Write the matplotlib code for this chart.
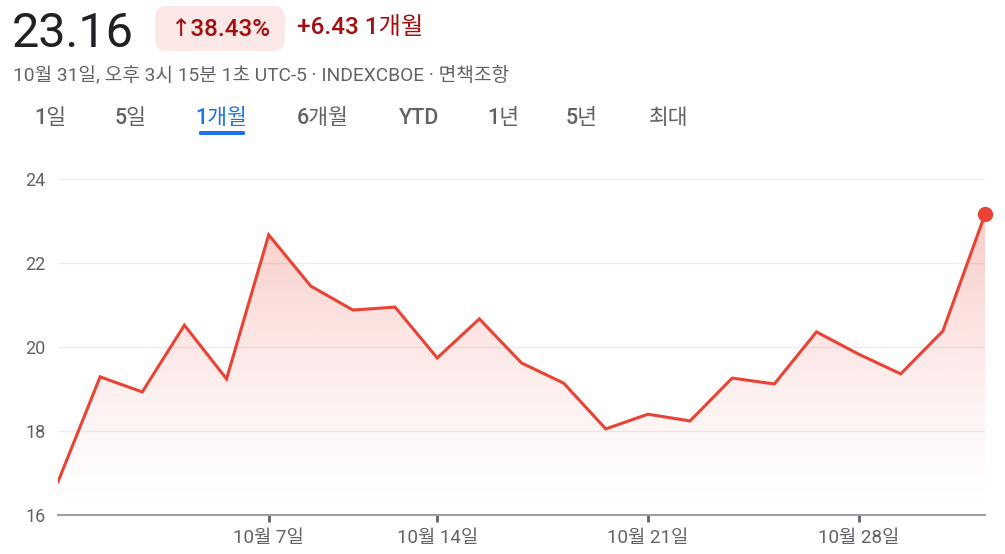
import matplotlib
matplotlib.use("Agg")
import matplotlib.pyplot as plt
import numpy as np
from matplotlib.patches import FancyBboxPatch

plt.rcParams['font.family'] = ['Roboto', 'Noto Sans CJK KR', 'DejaVu Sans']

# ---- data ----
values = [16.79, 19.29, 18.93, 20.52, 19.24, 22.67, 21.45, 20.88, 20.95, 19.74,
          20.67, 19.62, 19.14, 18.05, 18.40, 18.24, 19.26, 19.12, 20.36, 19.83,
          19.36, 20.38, 23.16]
tick_idx = [5, 9, 14, 19]
tick_labels = ["10월 7일", "10월 14일", "10월 21일", "10월 28일"]
y_ticks = [16, 18, 20, 22, 24]
tabs = ["1일", "5일", "1개월", "6개월", "YTD", "1년", "5년", "최대"]
tab_x = [50, 131, 221, 323, 419, 503, 582, 669]
price = "23.16"
pct = "↑38.43%"
change = "+6.43 1개월"
subtitle = "10월 31일, 오후 3시 15분 1초 UTC-5 · INDEXCBOE · 면책조항"

W, H = 1005, 554
fig = plt.figure(figsize=(W / 100, H / 100), dpi=100)

def fx(px):
    return px / W

def fy(py):
    return 1 - py / H

ax = fig.add_axes([fx(58), fy(515), fx(985) - fx(58), fy(179) - fy(515)])
x = np.arange(len(values))
red = "#ea4335"

ax.set_xlim(0, len(values) - 1)
ax.set_ylim(16, 24)

# gradient fill
ymax = max(values)
grad = np.linspace(0, 1, 256).reshape(-1, 1)
rgba = np.zeros((256, 1, 4))
rgba[..., 0] = 234 / 255
rgba[..., 1] = 67 / 255
rgba[..., 2] = 53 / 255
rgba[..., 3] = (grad[:, 0] ** 1.4 * 0.28).reshape(-1, 1)
poly = ax.fill_between(x, values, 16, color="none", lw=0)
img = ax.imshow(rgba, extent=[0, len(values) - 1, 16, ymax], origin="lower",
                aspect="auto", zorder=1)
path = poly.get_paths()[0]
img.set_clip_path(path, transform=ax.transData)

for yt in y_ticks[1:]:
    ax.axhline(yt, color="#ececec", lw=1.0, zorder=0)

ax.plot(x, values, color=red, lw=2.2, zorder=3, solid_joinstyle="miter")
ax.plot([x[-1]], [values[-1]], "o", color=red, ms=10, zorder=4, clip_on=False)

for s in ["top", "right", "left"]:
    ax.spines[s].set_visible(False)
ax.spines["bottom"].set_color("#9aa0a6")
ax.spines["bottom"].set_linewidth(1.5)

ax.set_xticks(tick_idx)
ax.set_xticklabels(tick_labels)
ax.tick_params(axis="x", length=5, width=2, color="#5f6368", pad=5,
               labelsize=13.5, labelcolor="#5f6368")
ax.set_yticks(y_ticks)
ax.set_yticklabels([str(v) for v in y_ticks])
ax.tick_params(axis="y", length=0, pad=9, labelsize=13, labelcolor="#5f6368")

# header
fig.text(fx(12), fy(34), price, fontsize=35, color="#202124", va="center", ha="left")
box = FancyBboxPatch((fx(155), fy(51)), fx(285) - fx(155), fy(6) - fy(51),
                     boxstyle="round,pad=0,rounding_size=0.012",
                     transform=fig.transFigure, facecolor="#fce8e6",
                     edgecolor="none", mutation_aspect=W / H)
fig.patches.append(box)
fig.text(fx(220), fy(29), pct, fontsize=17.5, color="#a50e0e", va="center", ha="center",
         family=['Roboto', 'DejaVu Sans'], fontweight="medium")
fig.text(fx(297), fy(28), change, fontsize=17.5, color="#a50e0e", va="center", ha="left",
         fontweight="medium")
fig.text(fx(13), fy(75), subtitle, fontsize=13.8, color="#5f6368", va="center", ha="left")

for lbl, tx in zip(tabs, tab_x):
    c = "#1a73e8" if lbl == "1개월" else "#5f6368"
    fig.text(fx(tx), fy(119), lbl, fontsize=15.5, color=c, va="center", ha="center",
             fontweight="medium")
ul = FancyBboxPatch((fx(199), fy(135)), fx(245) - fx(199), fy(131) - fy(135),
                    boxstyle="round,pad=0,rounding_size=0.002",
                    transform=fig.transFigure, facecolor="#1a73e8", edgecolor="none")
fig.patches.append(ul)

fig.savefig("out.png", dpi=100, facecolor="white")
